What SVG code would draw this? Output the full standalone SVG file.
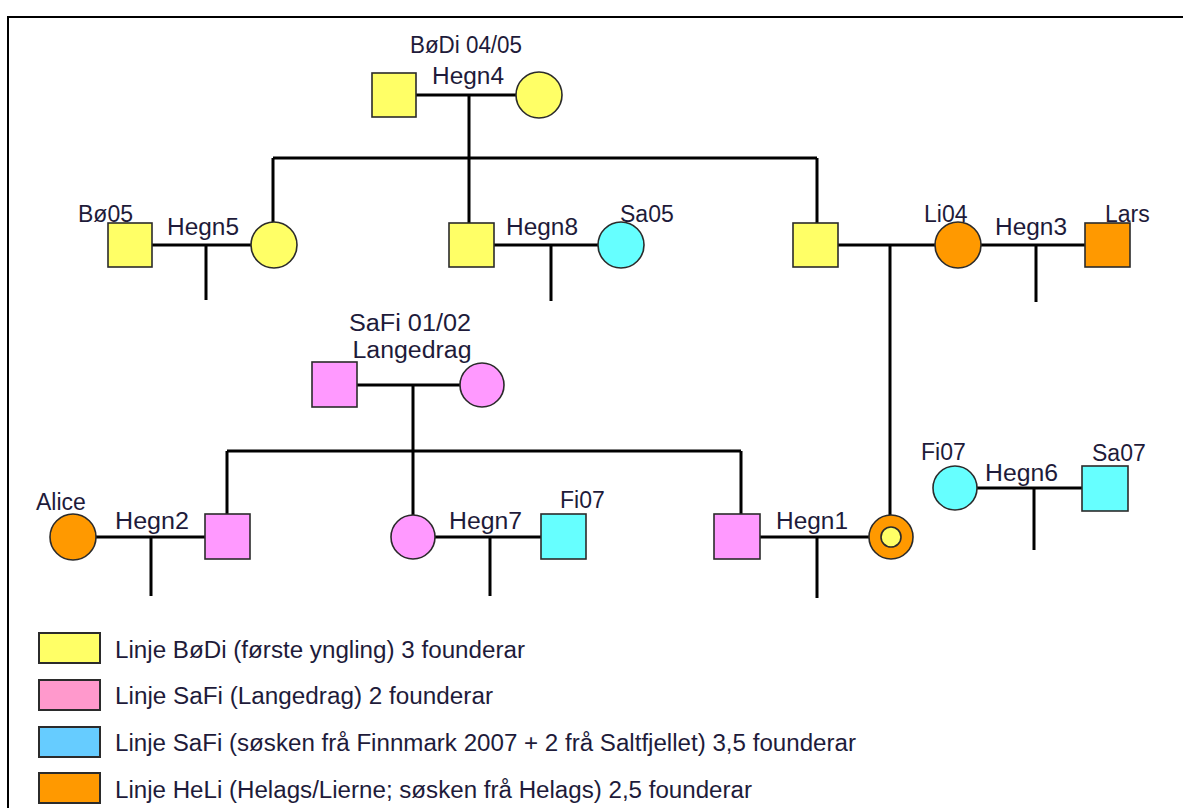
<svg xmlns="http://www.w3.org/2000/svg" width="1183" height="808" viewBox="0 0 1183 808">
<style>
text{font-family:"Liberation Sans",Arial,sans-serif;font-size:23px;fill:#1e1b3a}
.c{text-anchor:middle}
.lgt{font-size:23.5px}
.sh{stroke:#2b2b2b;stroke-width:1.6}
.y{fill:#ffff66}.p{fill:#ff99ff}.cy{fill:#66ffff}.o{fill:#ff9900}
.ln{stroke:#000;stroke-width:3;fill:none}
.lg{stroke:#2b2b2b;stroke-width:2}
</style>
<rect width="1183" height="808" fill="#fff"/>
<path d="M8 808V17H1183" fill="none" stroke="#000" stroke-width="2"/>
<g id="connectors" class="ln">
<path d="M416 95H516M469 95V158M273 158H817M273 158V222M469 158V223M817 158V223"/>
<path d="M152 245H251M206 245V300"/>
<path d="M494 245H598M551 245V301"/>
<path d="M838 245H935M890 245V515"/>
<path d="M981 245H1085M1036 245V302"/>
<path d="M357 385H460M413 385V451M227 451H741M227 451V514M413 451V515M741 451V514"/>
<path d="M96 537H205M151 537V596"/>
<path d="M435 537H541M490 537V596"/>
<path d="M760 537H869M817 537V598"/>
<path d="M977 488H1082M1034 488V550"/>
</g>
<g id="bodi-father"><rect class="sh y" x="372" y="73" width="44" height="44"/></g>
<g id="bodi-mother"><circle class="sh y" cx="539" cy="95" r="23"/></g>
<g id="bodi-label"><text class="c" x="466" y="53" textLength="112" lengthAdjust="spacingAndGlyphs">BøDi 04/05</text><text class="c" x="468" y="84" textLength="72" lengthAdjust="spacingAndGlyphs">Hegn4</text></g>
<g id="bo05"><rect class="sh y" x="108" y="223" width="44" height="44"/><text x="78" y="222">Bø05</text></g>
<g id="hegn5-label"><text x="167" y="235" textLength="72" lengthAdjust="spacingAndGlyphs">Hegn5</text></g>
<g id="bodi-daughter"><circle class="sh y" cx="274" cy="245" r="23"/></g>
<g id="bodi-son1"><rect class="sh y" x="449" y="223" width="45" height="44"/></g>
<g id="hegn8-label"><text x="506" y="235" textLength="72" lengthAdjust="spacingAndGlyphs">Hegn8</text></g>
<g id="sa05"><circle class="sh cy" cx="621" cy="245" r="23"/><text x="620" y="222">Sa05</text></g>
<g id="bodi-son2"><rect class="sh y" x="793" y="223" width="45" height="44"/></g>
<g id="li04"><circle class="sh o" cx="958" cy="245" r="23"/><text x="924" y="222">Li04</text></g>
<g id="hegn3-label"><text x="995" y="235" textLength="72" lengthAdjust="spacingAndGlyphs">Hegn3</text></g>
<g id="lars"><rect class="sh o" x="1085" y="223" width="45" height="44"/><text x="1105" y="222">Lars</text></g>
<g id="safi-label"><text class="c" x="410" y="331" textLength="122" lengthAdjust="spacingAndGlyphs">SaFi 01/02</text><text class="c" x="412" y="358" textLength="119" lengthAdjust="spacingAndGlyphs">Langedrag</text></g>
<g id="safi-father"><rect class="sh p" x="312" y="362" width="45" height="45"/></g>
<g id="safi-mother"><circle class="sh p" cx="482" cy="385" r="22"/></g>
<g id="alice"><circle class="sh o" cx="73" cy="537" r="23"/><text x="36" y="510">Alice</text></g>
<g id="hegn2-label"><text x="115" y="529" textLength="74" lengthAdjust="spacingAndGlyphs">Hegn2</text></g>
<g id="safi-son1"><rect class="sh p" x="205" y="514" width="45" height="45"/></g>
<g id="safi-daughter"><circle class="sh p" cx="413" cy="537" r="22"/></g>
<g id="hegn7-label"><text x="449" y="529" textLength="73" lengthAdjust="spacingAndGlyphs">Hegn7</text></g>
<g id="fi07-m"><rect class="sh cy" x="541" y="514" width="45" height="45"/><text x="560" y="508">Fi07</text></g>
<g id="safi-son2"><rect class="sh p" x="714" y="514" width="46" height="45"/></g>
<g id="hegn1-label"><text x="776" y="529" textLength="72" lengthAdjust="spacingAndGlyphs">Hegn1</text></g>
<g id="heli-daughter"><circle class="sh o" cx="891" cy="537" r="22"/><circle class="sh y" cx="891" cy="537" r="10"/></g>
<g id="fi07-f"><circle class="sh cy" cx="955" cy="488" r="22"/><text x="921" y="460">Fi07</text></g>
<g id="hegn6-label"><text x="985" y="481" textLength="73" lengthAdjust="spacingAndGlyphs">Hegn6</text></g>
<g id="sa07"><rect class="sh cy" x="1082" y="466" width="46" height="45"/><text x="1092" y="461">Sa07</text></g>
<g id="legend">
<rect class="lg" x="39" y="633" width="61" height="30" fill="#ffff66"/>
<text class="lgt" x="115" y="658" textLength="410" lengthAdjust="spacingAndGlyphs">Linje BøDi (første yngling) 3 founderar</text>
<rect class="lg" x="39" y="680" width="61" height="30" fill="#ff99cc"/>
<text class="lgt" x="115" y="704" textLength="378" lengthAdjust="spacingAndGlyphs">Linje SaFi (Langedrag) 2 founderar</text>
<rect class="lg" x="39" y="727" width="61" height="30" fill="#66ccff"/>
<text class="lgt" x="115" y="751" textLength="741" lengthAdjust="spacingAndGlyphs">Linje SaFi (søsken frå Finnmark 2007 + 2 frå Saltfjellet) 3,5 founderar</text>
<rect class="lg" x="39" y="773" width="61" height="30" fill="#ff9900"/>
<text class="lgt" x="115" y="798" textLength="637" lengthAdjust="spacingAndGlyphs">Linje HeLi (Helags/Lierne; søsken frå Helags) 2,5 founderar</text>
</g>
</svg>
